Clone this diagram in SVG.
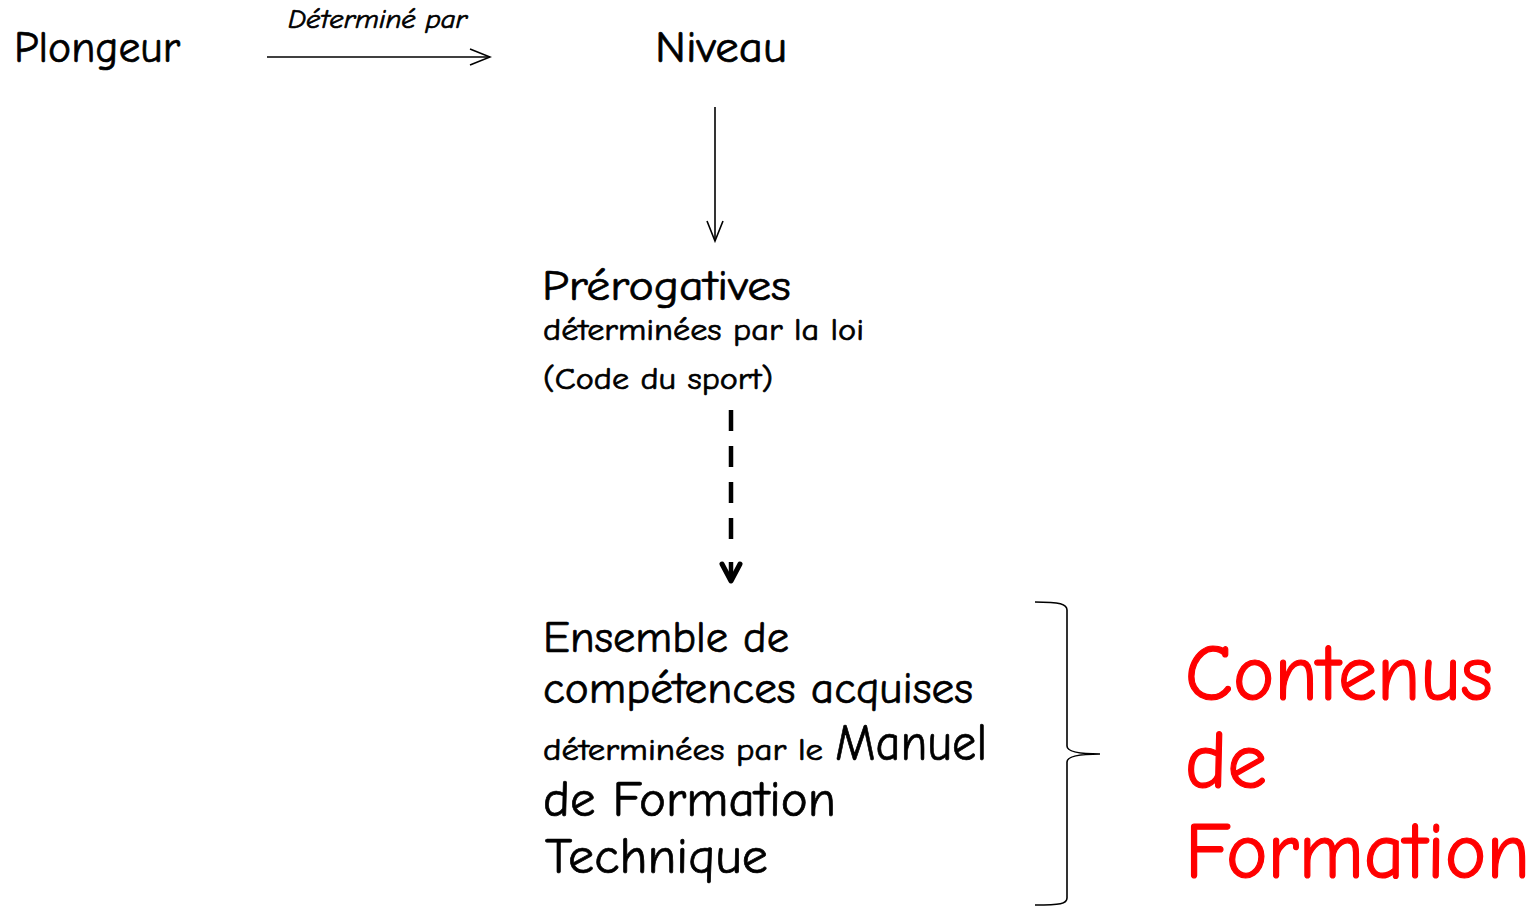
<svg xmlns="http://www.w3.org/2000/svg" width="1537" height="906" viewBox="0 0 1537 906">
<style>
text{font-family:"Comic Neue","Open Sans","DejaVu Sans",sans-serif;fill:#000;stroke:#000;stroke-width:0.7}
.red{fill:#ff0000;stroke:#ff0000;stroke-width:1.2}
.ln{fill:none;stroke:#000;stroke-width:1.6}
</style>
<defs>
<marker id="open" markerWidth="24" markerHeight="20" refX="22" refY="10" orient="auto" markerUnits="userSpaceOnUse">
<path d="M2,2 L22,10 L2,18" fill="none" stroke="#000" stroke-width="1.6"/>
</marker>
</defs>
<rect width="1537" height="906" fill="#fff"/>
<g id="plongeur"><text x="14" y="62" font-size="44" textLength="166" lengthAdjust="spacingAndGlyphs">Plongeur</text></g>
<g id="niveau"><text x="655" y="62" font-size="44" textLength="132" lengthAdjust="spacingAndGlyphs">Niveau</text></g>
<g id="prerogatives">
<text x="542" y="300" font-size="43" textLength="249" lengthAdjust="spacingAndGlyphs">Prérogatives</text>
<text x="543" y="340" font-size="31" textLength="321" lengthAdjust="spacingAndGlyphs">déterminées par la loi</text>
<text x="543" y="389" font-size="31" textLength="230" lengthAdjust="spacingAndGlyphs">(Code du sport)</text>
</g>
<g id="ensemble">
<text x="543" y="652" font-size="44" textLength="246" lengthAdjust="spacingAndGlyphs">Ensemble de</text>
<text x="543" y="703" font-size="44" textLength="430" lengthAdjust="spacingAndGlyphs">compétences acquises</text>
<text x="543" y="760" font-size="30" textLength="280" lengthAdjust="spacingAndGlyphs">déterminées par le</text>
<text x="835" y="760" font-size="52" textLength="152" lengthAdjust="spacingAndGlyphs">Manuel</text>
<text x="543" y="816" font-size="50" textLength="293" lengthAdjust="spacingAndGlyphs">de Formation</text>
<text x="545" y="873" font-size="50" textLength="223" lengthAdjust="spacingAndGlyphs">Technique</text>
</g>
<g id="contenus">
<text class="red" x="1185" y="700" font-size="80" textLength="308" lengthAdjust="spacingAndGlyphs">Contenus</text>
<text class="red" x="1185" y="788" font-size="80" textLength="82" lengthAdjust="spacingAndGlyphs">de</text>
<text class="red" x="1185" y="878" font-size="80" textLength="345" lengthAdjust="spacingAndGlyphs">Formation</text>
</g>
<g id="connectors">
<line class="ln" x1="267" y1="57" x2="490" y2="57" marker-end="url(#open)"/>
<text x="288" y="28" font-size="27" font-style="italic" stroke-width="0.4" textLength="179" lengthAdjust="spacingAndGlyphs">Déterminé par</text>
<line class="ln" x1="715" y1="107" x2="715" y2="241" marker-end="url(#open)"/>
<line x1="731" y1="410" x2="731" y2="545" stroke="#000" stroke-width="4.5" stroke-dasharray="21,15"/>
<path d="M722,564 L731,581 L740,564" fill="none" stroke="#000" stroke-width="5" stroke-linecap="round" stroke-linejoin="round"/>
<line x1="731" y1="562" x2="731" y2="580" stroke="#000" stroke-width="4.5"/>
<path class="ln" d="M1035,602 C1060,602 1067,604 1067,610 L1067,746 C1067,752 1080,754 1100,754 C1080,754 1067,756 1067,762 L1067,898 C1067,904 1060,905 1035,905"/>
</g>
</svg>
